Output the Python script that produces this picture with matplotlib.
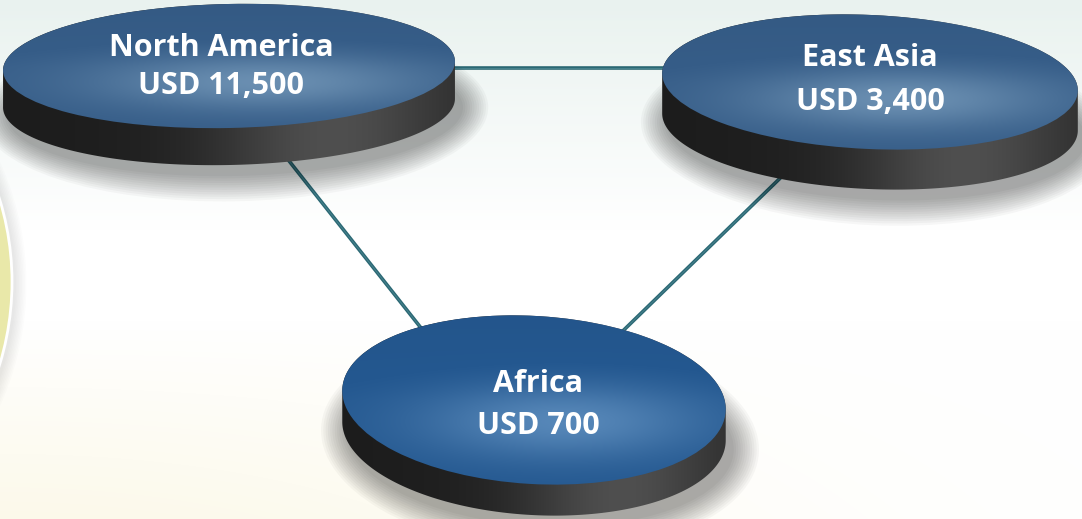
import numpy as np
import matplotlib
matplotlib.use("Agg")
import matplotlib.pyplot as plt
from matplotlib.patches import Ellipse, Polygon, Circle
from matplotlib.colors import to_rgb

# ---- data ----
regions = ["North America", "East Asia", "Africa"]
values = [11500, 3400, 700]
currency = "USD"
links = [(0, 1), (0, 2), (1, 2)]

# ---- layout (pixel coords, y down) ----
W, H = 1082, 519
disc_cx = [229, 870, 534]
disc_cy = [66, 82, 400]
disc_a = [226, 208, 192]
disc_b = [62, 67, 84]
disc_ang = [-1.2, 2.6, 3.4]
disc_t = [37, 40, 31]
face_base = ["#365d88", "#365d88", "#245890"]
face_hi = ["#7397b8", "#7397b8", "#5f8fbf"]
text_xy = [(221, 44, 82), (870, 54, 98), (538, 381, 423)]
# link line anchor points (visible segment ends, extended under discs)
link_pts = {
    (0, 1): [(300, 68), (800, 68)],
    (0, 2): [(252, 114), (470, 390)],
    (1, 2): [(840, 120), (560, 392)],
}

fig = plt.figure(figsize=(W / 100, H / 100), dpi=100)
ax = fig.add_axes([0, 0, 1, 1])
ax.set_xlim(0, W)
ax.set_ylim(H, 0)
ax.axis("off")

# background gradient
yy, xx = np.mgrid[0:H, 0:W].astype(float)
top = np.array(to_rgb("#e9f2ef"))
v = np.clip(yy / 230.0, 0, 1)[..., None]
bg = top * (1 - v) + np.ones(3) * v
cream = np.array(to_rgb("#fcf9ea"))
wb = (np.clip((yy - 320) / 200.0, 0, 1) * np.exp(-(xx / 650.0) ** 2))[..., None]
bg = bg * (1 - wb) + cream * wb
ax.imshow(bg, extent=(0, W, H, 0), zorder=0, interpolation="bilinear")

# partial yellow circle at left edge
for k in range(8):
    ax.add_patch(Circle((-271 + 2, 282 + 2), 283 + 2 + k * 1.5, facecolor="black",
                        edgecolor="none", alpha=0.012, zorder=1))
ax.add_patch(Circle((-271, 282), 283, facecolor="#e9e8a9", edgecolor="white",
                    linewidth=2.0, zorder=2))

# links
for (i, j) in links:
    (x0, y0), (x1, y1) = link_pts[(i, j)]
    ax.plot([x0, x1], [y0, y1], color="#2b6874", linewidth=2.6,
            solid_capstyle="butt", zorder=3)
    ax.plot([x0, x1], [y0, y1], color="#5f98a3", linewidth=0.6,
            solid_capstyle="butt", zorder=3.1, alpha=0.6)


def ell_pts(cx, cy, a, b, ang, n=400):
    t = np.linspace(0, 2 * np.pi, n, endpoint=False)
    th = np.deg2rad(ang)
    x = cx + a * np.cos(t) * np.cos(th) - b * np.sin(t) * np.sin(th)
    y = cy + a * np.cos(t) * np.sin(th) + b * np.sin(t) * np.cos(th)
    return np.column_stack([x, y])


def hull(points):
    pts = sorted(map(tuple, points))
    def cross(o, a, b):
        return (a[0] - o[0]) * (b[1] - o[1]) - (a[1] - o[1]) * (b[0] - o[0])
    lower, upper = [], []
    for p in pts:
        while len(lower) >= 2 and cross(lower[-2], lower[-1], p) <= 0:
            lower.pop()
        lower.append(p)
    for p in reversed(pts):
        while len(upper) >= 2 and cross(upper[-2], upper[-1], p) <= 0:
            upper.pop()
        upper.append(p)
    return np.array(lower[:-1] + upper[:-1])


for i, name in enumerate(regions):
    cx, cy, a, b, ang, t = disc_cx[i], disc_cy[i], disc_a[i], disc_b[i], disc_ang[i], disc_t[i]
    z = 5 + i
    # soft shadow
    for k in range(12):
        ax.add_patch(Ellipse((cx + 6, cy + t + 9), 2 * (a + 2 + k * 2.3), 2 * (b + 2 + k * 2.3),
                             angle=ang, facecolor="black", edgecolor="none",
                             alpha=0.032, zorder=z))
    # side
    p_top = ell_pts(cx, cy, a, b, ang)
    p_bot = p_top + np.array([0, t])
    side = Polygon(hull(np.vstack([p_top, p_bot])), closed=True, facecolor="none",
                   edgecolor="none", zorder=z + 0.1)
    ax.add_patch(side)
    x0, x1 = cx - a - 3, cx + a + 3
    y0, y1 = cy - b - 3, cy + b + t + 3
    gx = np.linspace(0, 1, 300)
    lum = 0.11 + 0.17 * np.exp(-((gx - 0.72) / 0.25) ** 2) + 0.04 * gx
    lum = np.clip(lum, 0, 1)
    simg = np.tile(np.stack([lum, lum, lum], axis=-1)[None, :, :], (4, 1, 1))
    im = ax.imshow(simg, extent=(x0, x1, y1, y0), zorder=z + 0.2, interpolation="bilinear",
                   aspect="auto")
    im.set_clip_path(side)
    # face
    face = Ellipse((cx, cy), 2 * a, 2 * b, angle=ang, facecolor="none",
                   edgecolor="none", zorder=z + 0.3)
    ax.add_patch(face)
    fy, fx = np.mgrid[cy - b - 3:cy + b + 3:1.0, cx - a - 3:cx + a + 3:1.0]
    base = np.array(to_rgb(face_base[i]))
    hi = np.array(to_rgb(face_hi[i]))
    hx, hy = cx + 0.15 * a, cy + 0.25 * b
    w = 0.85 * np.exp(-(((fx - hx) / (0.75 * a)) ** 2 + ((fy - hy) / (0.45 * b)) ** 2))
    w = w - 0.18 * np.clip((cy - fy) / b, 0, 1)
    w = np.clip(w, -0.3, 1)[..., None]
    dark = base * 0.85
    fimg = np.where(w >= 0, base * (1 - w) + hi * w, base * (1 + w) + dark * (-w))
    fimg = np.clip(fimg, 0, 1)
    im2 = ax.imshow(fimg, extent=(cx - a - 3, cx + a + 3, cy + b + 3, cy - b - 3),
                    zorder=z + 0.4, interpolation="bilinear", aspect="auto")
    im2.set_clip_path(face)
    # labels
    tx, ty1, ty2 = text_xy[i]
    ax.text(tx, ty1, name, color="white", fontsize=22, fontweight="bold",
            family=["Open Sans", "DejaVu Sans"], ha="center", va="center_baseline",
            zorder=z + 0.6)
    ax.text(tx, ty2, f"{currency} {values[i]:,}", color="white", fontsize=22,
            fontweight="bold", family=["Open Sans", "DejaVu Sans"], ha="center",
            va="center_baseline", zorder=z + 0.6)

fig.savefig("out.png", dpi=100)
